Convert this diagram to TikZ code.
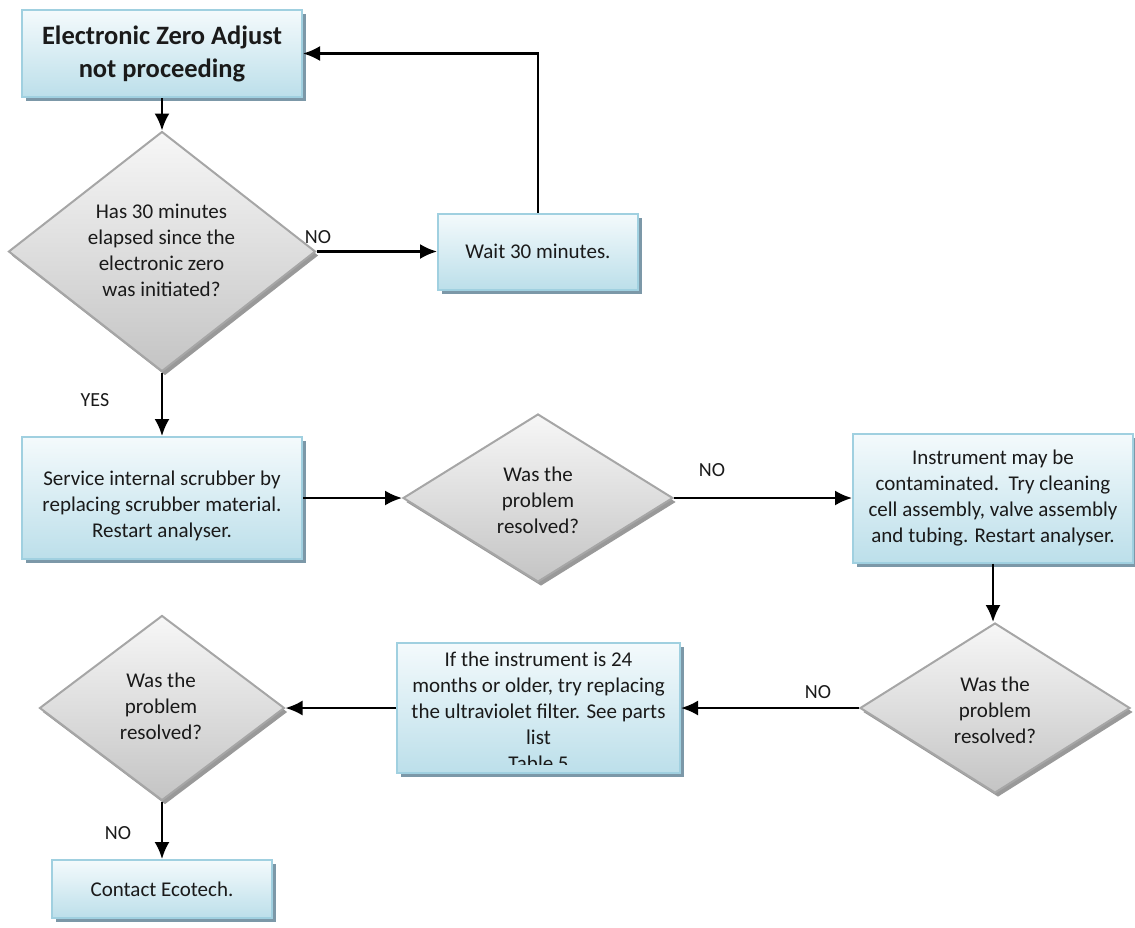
\documentclass[tikz,border=0pt]{standalone}
\usepackage{fontspec}
\setmainfont{Carlito}
\usetikzlibrary{shapes.geometric,arrows.meta,shadows}
\definecolor{boxtop}{HTML}{F4FAFC}
\definecolor{boxbot}{HTML}{BCDFEA}
\definecolor{boxline}{HTML}{A0D0E0}
\definecolor{boxshadow}{HTML}{7C98A8}
\definecolor{diatop}{HTML}{F7F7F7}
\definecolor{diabot}{HTML}{C4C4C4}
\definecolor{dialine}{HTML}{A6A6A6}
\definecolor{diashadow}{HTML}{999999}
\definecolor{txt}{HTML}{1A1A1A}
\newcommand\fzbody{\fontsize{21}{26}\selectfont}
\newcommand\fztitle{\fontsize{26.5}{33}\selectfont\bfseries}
\newcommand\fzlab{\fontsize{20}{24}\selectfont}
\begin{document}
\begin{tikzpicture}[x=1pt,y=-1pt,
  procbox/.style={rectangle, draw=boxline, line width=2pt, top color=boxtop, bottom color=boxbot,
    inner sep=0pt, align=center, text=txt, font=\fzbody,
    drop shadow={shadow xshift=4pt, shadow yshift=-4pt, fill=boxshadow, opacity=1}},
  decision/.style={diamond, draw=dialine, line width=2pt, top color=diatop, bottom color=diabot,
    inner sep=0pt, drop shadow={shadow xshift=3pt, shadow yshift=-4pt, fill=diashadow, opacity=1}},
  dtext/.style={align=center, text=txt, font=\fzbody, inner sep=0pt},
  lab/.style={text=txt, font=\fzlab, inner sep=0pt},
  arr/.style={-{Latex[length=17pt,width=15pt]}, line width=2.3pt, black}]
\useasboundingbox (0,0) rectangle (1135,927);

% nodes
\node[procbox, minimum width=280pt, minimum height=87pt, font=\fztitle] (title) at (162,53.5) {Electronic Zero Adjust\\not proceeding};
\node[decision, minimum width=307pt, minimum height=240pt] (d1) at (162,251.5) {};
\node[dtext] (d1t) at (161.5,250) {Has 30 minutes\\elapsed since the\\electronic zero\\was initiated?};
\node[procbox, minimum width=200pt, minimum height=76pt] (wait) at (538,251.5) {Wait 30 minutes.};
\node[procbox, minimum width=280pt, minimum height=122pt] (service) at (162,498) {};
\node[dtext] (servicet) at (162,506) {Service internal scrubber by\\replacing scrubber material.\\Restart analyser.};
\node[decision, minimum width=270pt, minimum height=168pt] (d2) at (538,498) {};
\node[dtext] (d2t) at (538,500) {Was the\\problem\\resolved?};
\node[procbox, minimum width=280pt, minimum height=129pt] (instr) at (993,498) {Instrument may be\\contaminated.\ \ Try cleaning\\cell assembly, valve assembly\\and tubing. Restart analyser.};
\node[decision, minimum width=270pt, minimum height=170pt] (d3) at (995,708) {};
\node[dtext] (d3t) at (995,710) {Was the\\problem\\resolved?};
\node[procbox, minimum width=283pt, minimum height=130pt] (uv) at (538.5,708) {};
\begin{scope}
\clip (397,643) rectangle (681,764);
\node[dtext] (uvt) at (538.5,711.5) {If the instrument is 24\\months or older, try replacing\\the ultraviolet filter. See parts\\list\\Table 5};
\end{scope}
\node[decision, minimum width=245pt, minimum height=185pt] (d4) at (162,708) {};
\node[dtext] (d4t) at (161,706) {Was the\\problem\\resolved?};
\node[procbox, minimum width=220pt, minimum height=58pt] (contact) at (162,889) {Contact Ecotech.};

% connectors
\draw[arr] (title.south) -- (d1.north);
\draw[arr] (d1.east) -- (wait.west);
\draw[arr] (wait.north) |- (title.east);
\draw[arr] (d1.south) -- (service.north);
\draw[arr] (service.east) -- (d2.west);
\draw[arr] (d2.east) -- (instr.west);
\draw[arr] (instr.south) -- (instr.south |- d3.north);
\draw[arr] (d3.west) -- (uv.east);
\draw[arr] (uv.west) -- (d4.east);
\draw[arr] (d4.south) -- (contact.north);

% labels
\node[lab] (no1) at (318,237) {NO};
\node[lab] (yes1) at (95,400) {YES};
\node[lab] (no2) at (712,470) {NO};
\node[lab] (no3) at (818,692) {NO};
\node[lab] (no4) at (118,833) {NO};
\end{tikzpicture}
\end{document}
